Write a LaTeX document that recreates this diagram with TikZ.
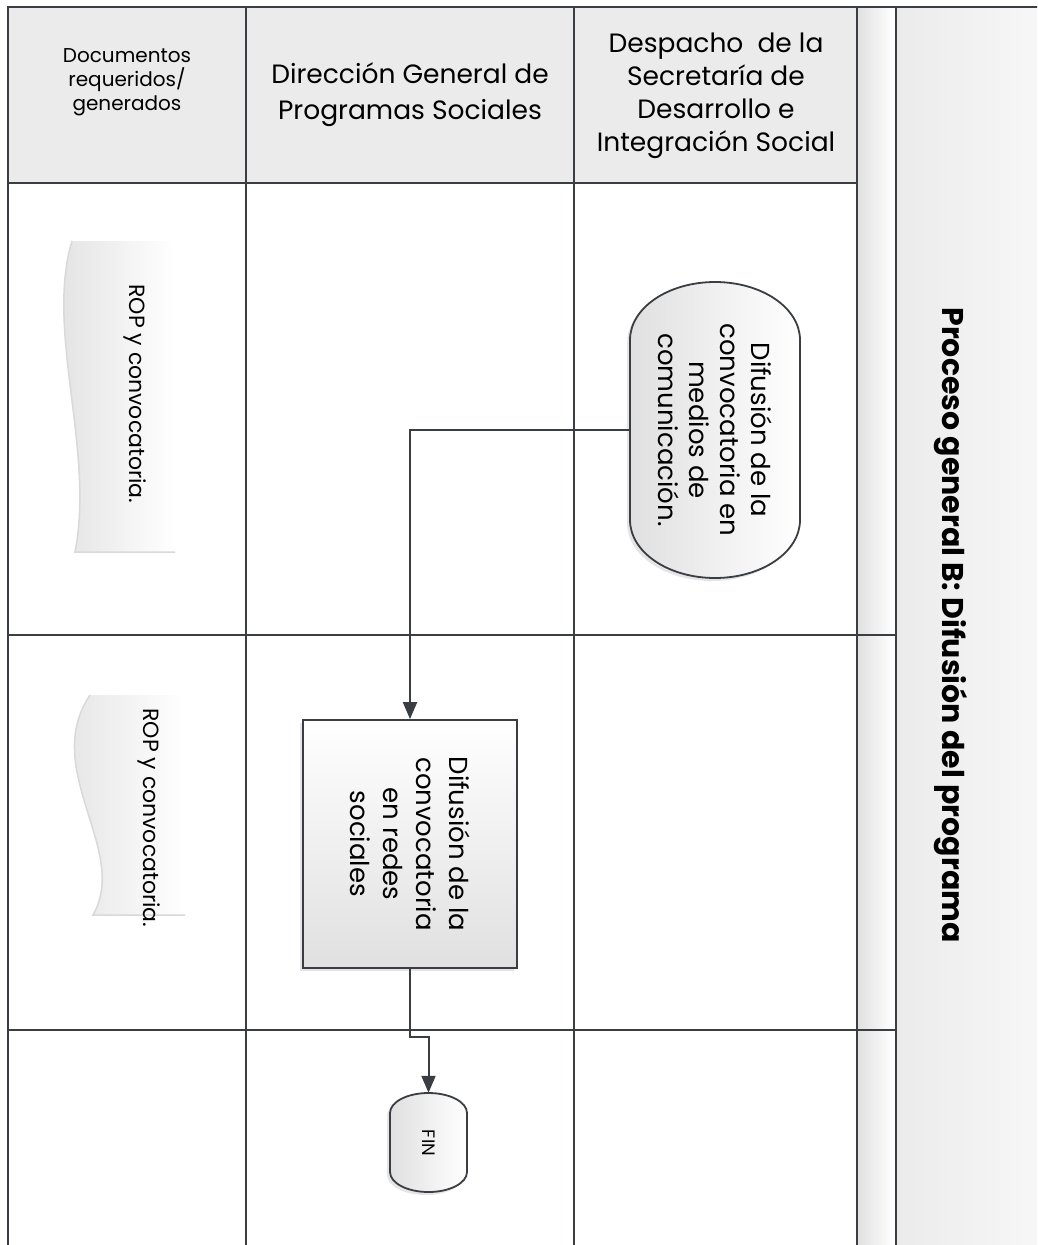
\documentclass[tikz,border=0pt]{standalone}
\usepackage{fontspec}
\setmainfont{Poppins}
\usetikzlibrary{positioning,shapes.misc,arrows.meta,shadows,calc}

\definecolor{lanegray}{HTML}{3A3E42}
\definecolor{headgray}{HTML}{EBEBEB}
\definecolor{shadegray}{HTML}{E0E0E0}

\tikzset{
	lane/.style={draw=lanegray, line width=2.6pt},
	flow/.style={draw=lanegray, line width=2pt, -{Triangle[width=14pt,length=17pt]}},
	shapeline/.style={draw=lanegray, line width=1.8pt, left color=shadegray, right color=white,
		drop shadow={shadow xshift=-3pt, shadow yshift=-3pt, opacity=.2}},
	proc/.style={rectangle, rotate=-90, shapeline, bottom color=shadegray, top color=white, align=center},
	termtext/.style={rectangle, rotate=-90, align=center, inner sep=0pt},
	doctext/.style={rotate=-90, font=\fontsize{22}{26}\selectfont},
	headtext/.style={align=center},
}

\begin{document}
\begin{tikzpicture}[x=1pt, y=-1pt, line join=miter]
		\useasboundingbox (0,0) rectangle (1037,1245);
		\clip (0,0) rectangle (1037,1245);
		% lane backgrounds
		\fill[white] (0,0) rectangle (1037,1245);
		\fill[headgray] (8,7) rectangle (857,183);
		\shade[left color=shadegray, right color=white] (857,7) rectangle (893,1250);
		\shade[left color=headgray, right color=white!60!headgray] (896,7) rectangle (1040,1250);
		% lane lines
		\draw[lane] (8,1250) -- (8,7) -- (1040,7);
		\foreach \lx in {246,574,857,896}
			\draw[lane] (\lx,7) -- (\lx,1250);
		\draw[lane] (8,183) -- (857,183);
		\draw[lane] (8,635) -- (896,635);
		\draw[lane] (8,1030) -- (896,1030);

		% headers
		\node[headtext, font=\fontsize{20}{24}\selectfont] (hdoc) at (127,82) {Documentos\\requeridos/\\generados};
		\node[headtext, font=\fontsize{26.5}{36}\selectfont] (hdgps) at (410,95) {Dirección General de\\Programas Sociales};
		\node[headtext, font=\fontsize{26.5}{33}\selectfont] (hdesp) at (716,96) {Despacho\ \ de la\\Secretaría de\\Desarrollo e\\Integración Social};
		\node[rotate=-90, font=\bfseries\fontsize{30}{34}\selectfont] (titulo) at (951,625) {Proceso general B: Difusión del programa};

		% documents
		\shade[left color=shadegray, right color=white] (72,241) -- (175,241) -- (175,552) -- (75,552)
			.. controls (95,450) and (45,330) .. (72,241);
		\draw[gray!30, line width=1.5pt] (175,552) -- (75,552) .. controls (95,450) and (45,330) .. (72,241);
		\node[doctext] (rop1) at (135,394) {ROP y convocatoria.};
		\shade[left color=shadegray, right color=white] (90,695) -- (185,695) -- (185,915) -- (93,915)
			.. controls (130,850) and (40,770) .. (90,695);
		\draw[gray!30, line width=1.5pt] (185,915) -- (93,915) .. controls (130,850) and (40,770) .. (90,695);
		\node[doctext] (rop2) at (149,818) {ROP y convocatoria.};

		% inicio
		\draw[shapeline] (630,340) -- (630,520) arc[start angle=180, end angle=0, x radius=85, y radius=58]
			-- (800,340) arc[start angle=0, end angle=-180, x radius=85, y radius=58] -- cycle;
		\node[termtext, minimum width=296pt, minimum height=170pt, font=\fontsize{26}{31}\selectfont] (inicio) at (715,430)
			{Difusión de la\\convocatoria en\\medios de\\comunicación.};

		% redes sociales
		\node[proc, minimum width=248pt, minimum height=214pt, font=\fontsize{26}{33}\selectfont] (difusion) at (410,844)
			{Difusión de la\\convocatoria\\en redes\\sociales};

		% fin
		\draw[shapeline] (390,1113) -- (390,1172) arc[start angle=180, end angle=0, x radius=38.5, y radius=20]
			-- (467,1113) arc[start angle=0, end angle=-180, x radius=38.5, y radius=20] -- cycle;
		\node[termtext, minimum width=100pt, minimum height=77pt, font=\fontsize{18}{22}\selectfont] (fin) at (428.5,1143) {FIN};

		% connectors
		\draw[flow] (inicio.south) -| (difusion.west);
		\draw[flow] (difusion.east) -- ++(0,68) -| (fin.west);
	\end{tikzpicture}
\end{document}
